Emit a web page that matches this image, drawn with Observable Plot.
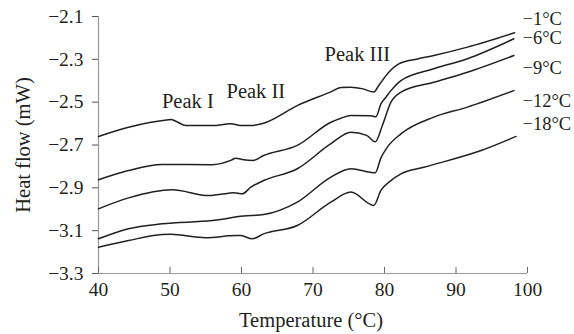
<!DOCTYPE html>
<html>
<head>
<meta charset="utf-8">
<script src="https://cdn.jsdelivr.net/npm/d3@7"></script>
<script src="https://cdn.jsdelivr.net/npm/@observablehq/plot@0.6"></script>
<style>
  html, body { margin: 0; padding: 0; background: #fff; }
  #chart svg { display: block; }
</style>
</head>
<body>
<div id="chart"></div>
<script>
// Series: temperature (°C) and heat flow (mW)
const seriesNames = ["−1°C", "−6°C", "−9°C", "−12°C", "−18°C"];

const t1 = [40.0, 44.2, 49.8, 50.1, 50.9, 52.2, 55.9, 58.5, 60.1, 61.3, 63.1, 67.8, 72.5, 73.9, 75.3, 77.0, 78.5, 79.2, 80.6, 82.0, 84.6, 86.9, 91.6, 98.2];
const v1 = [-2.660, -2.617, -2.582, -2.581, -2.590, -2.609, -2.609, -2.601, -2.609, -2.609, -2.598, -2.516, -2.452, -2.432, -2.430, -2.438, -2.453, -2.422, -2.360, -2.321, -2.298, -2.282, -2.243, -2.176];

const t2 = [40.0, 44.2, 48.9, 55.9, 58.5, 59.2, 60.3, 61.6, 63.1, 67.8, 72.5, 73.9, 75.3, 78.1, 78.8, 79.5, 80.2, 80.9, 82.3, 86.9, 91.6, 98.1];
const v2 = [-2.862, -2.819, -2.791, -2.792, -2.772, -2.762, -2.769, -2.772, -2.749, -2.702, -2.594, -2.575, -2.562, -2.563, -2.568, -2.508, -2.477, -2.446, -2.399, -2.344, -2.297, -2.204];

const t3 = [40.0, 44.2, 50.3, 55.4, 58.2, 58.9, 60.1, 61.3, 63.1, 67.8, 72.5, 75.3, 77.5, 78.7, 79.7, 80.9, 82.3, 86.9, 91.6, 98.1];
const v3 = [-2.998, -2.947, -2.909, -2.936, -2.925, -2.923, -2.928, -2.897, -2.866, -2.811, -2.694, -2.640, -2.655, -2.685, -2.609, -2.500, -2.453, -2.407, -2.360, -2.282];

const t4 = [40.0, 44.2, 48.9, 55.9, 60.3, 63.1, 67.8, 72.5, 75.3, 78.7, 79.5, 80.4, 82.3, 86.9, 91.6, 98.1];
const v4 = [-3.138, -3.091, -3.068, -3.053, -3.032, -3.025, -2.967, -2.850, -2.811, -2.830, -2.760, -2.710, -2.648, -2.570, -2.523, -2.446];

const t5 = [40.0, 44.2, 48.9, 50.1, 55.0, 59.2, 59.9, 61.5, 63.1, 67.8, 72.5, 75.3, 78.5, 79.5, 80.9, 82.3, 85.5, 93.5, 98.4];
const v5 = [-3.177, -3.146, -3.118, -3.117, -3.133, -3.123, -3.123, -3.138, -3.115, -3.076, -2.967, -2.920, -2.982, -2.912, -2.866, -2.835, -2.804, -2.726, -2.660];

const seriesT = [t1, t2, t3, t4, t5];
const seriesV = [v1, v2, v3, v4, v5];

// Right-hand series labels (heat flow where each label sits)
const labelV = [-2.110, -2.203, -2.339, -2.495, -2.603];

// Peak annotations
const peakNames = ["Peak I", "Peak II", "Peak III"];
const peakT = [52.5, 62.0, 76.2];
const peakV = [-2.496, -2.448, -2.277];

// Ticks
const xTicks = [40, 50, 60, 70, 80, 90, 100];
const yTicks = [-3.3, -3.1, -2.9, -2.7, -2.5, -2.3, -2.1];

const rows = [];
seriesNames.forEach((name, s) => {
  seriesT[s].forEach((t, i) => rows.push({series: name, t, v: seriesV[s][i]}));
});
const labels = seriesNames.map((name, i) => ({name, v: labelV[i]}));
const peaks = peakNames.map((name, i) => ({name, t: peakT[i], v: peakV[i]}));

const ink = "#231f20";
const FS = 19.5;
const FL = 20.5;

const chart = Plot.plot({
  width: 574,
  height: 334,
  marginLeft: 98,
  marginRight: 47,
  marginTop: 16,
  marginBottom: 61,
  style: {fontFamily: "'Liberation Serif', 'Times New Roman', serif", fontSize: FS + "px", color: ink, background: "#fff"},
  x: {domain: [40, 100]},
  y: {domain: [-3.3, -2.1]},
  marks: [
    // axis lines
    Plot.ruleX([40], {stroke: "#9a9a9a", strokeWidth: 1.2}),
    Plot.ruleY([-3.3], {stroke: "#9a9a9a", strokeWidth: 1.2}),
    // x ticks pointing inward (up)
    Plot.axisX(xTicks, {tickSize: 6, dy: -6, tickFormat: () => "", stroke: "#666", label: null}),
    Plot.axisX(xTicks, {tickSize: 0, tickPadding: 9, tickFormat: d => String(d), fontSize: FS, fill: ink, label: null}),
    Plot.axisY(yTicks, {tickSize: 6, tickPadding: 9, stroke: "#555", tickFormat: d3.format(".1f"), fontSize: FS, fill: ink, label: null}),
    // curves
    Plot.line(rows, {x: "t", y: "v", z: "series", stroke: ink, strokeWidth: 1.5, curve: "monotone-x"}),
    // series labels on the right
    Plot.text(labels, {x: 100, y: "v", text: "name", textAnchor: "start", dx: -5, fill: ink, fontSize: 18.5}),
    // peak labels
    Plot.text(peaks, {x: "t", y: "v", text: "name", fill: ink, fontSize: FL}),
    // axis titles
    Plot.text(["Heat flow (mW)"], {frameAnchor: "middle", textAnchor: "middle", lineAnchor: "middle", rotate: -90, dx: -290, fill: ink, fontSize: FL}),
    Plot.text(["Temperature (°C)"], {frameAnchor: "bottom", textAnchor: "middle", lineAnchor: "middle", dx: -2, dy: 47, fill: ink, fontSize: FL})
  ]
});
document.getElementById("chart").appendChild(chart);
</script>
</body>
</html>
